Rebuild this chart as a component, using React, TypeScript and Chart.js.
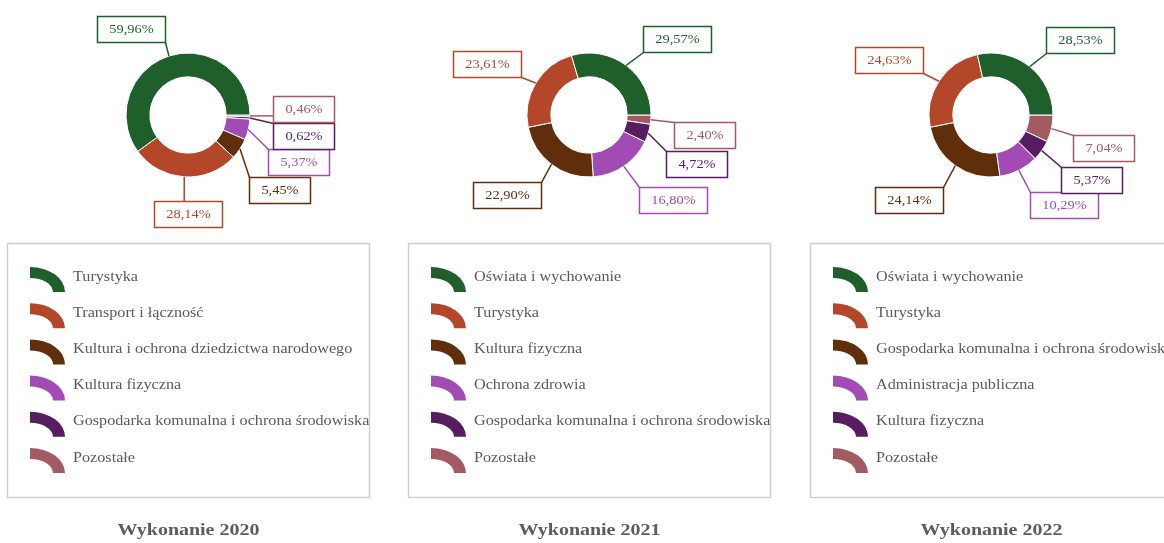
import React, { useEffect, useRef } from "react";
import { Chart, registerables } from "chart.js";

Chart.register(...registerables);

// ---- data ----
const categories2020 = [
  "Turystyka",
  "Transport i łączność",
  "Kultura i ochrona dziedzictwa narodowego",
  "Kultura fizyczna",
  "Gospodarka komunalna i ochrona środowiska",
  "Pozostałe",
];
const values2020 = [59.96, 28.14, 5.45, 5.37, 0.62, 0.46];

const categories2021 = [
  "Oświata i wychowanie",
  "Turystyka",
  "Kultura fizyczna",
  "Ochrona zdrowia",
  "Gospodarka komunalna i ochrona środowiska",
  "Pozostałe",
];
const values2021 = [29.57, 23.61, 22.9, 16.8, 4.72, 2.4];

const categories2022 = [
  "Oświata i wychowanie",
  "Turystyka",
  "Gospodarka komunalna i ochrona środowiska",
  "Administracja publiczna",
  "Kultura fizyczna",
  "Pozostałe",
];
const values2022 = [28.53, 24.63, 24.14, 10.29, 5.37, 7.04];

const titles = ["Wykonanie 2020", "Wykonanie 2021", "Wykonanie 2022"];

// ---- styles / layout ----
const colors = ["#1e5f2b", "#b4472a", "#602e0b", "#a24bb4", "#561d60", "#a45a62"];

// label box centres relative to the doughnut centre
const labelPos2020 = [[-57, -86], [0, 98.5], [91, 74.5], [110, 46.5], [115, 21], [115, -6.5]];
const labelPos2021 = [[88, -76], [-102, -51.5], [-82, 80], [83.5, 84.5], [107.5, 49], [115, 20]];
const labelPos2022 = [[88.5, -75.5], [-102, -55.5], [-82, 85], [72.5, 90], [100, 65], [112, 32.5]];

const PANEL_W = 401;
const PANEL_H = 543;
const panelLeft = [0, 401, 803];
const CX = 188;
const CY = 115;
const SERIF = '"Liberation Serif", "Times New Roman", serif';

function drawText(ctx: CanvasRenderingContext2D, text: string, x: number, y: number, align: CanvasTextAlign, sx: number) {
  ctx.save();
  ctx.translate(x, y);
  ctx.scale(sx, 1);
  ctx.textAlign = align;
  ctx.textBaseline = "middle";
  ctx.fillText(text, 0, 0);
  ctx.restore();
}

function makePlugin(cats: string[], vals: number[], pos: number[][], title: string) {
  return {
    id: "panelDecor",
    afterDraw(chart: any) {
      const ctx: CanvasRenderingContext2D = chart.ctx;
      const meta = chart.getDatasetMeta(0);
      const n = vals.length;
      ctx.save();
      const LSX = 1.22;
      ctx.font = `11.8px ${SERIF}`;
      const boxes: any[] = [];
      for (let i = 0; i < n; i++) {
        const arc = meta.data[n - 1 - i];
        const p = arc.getProps(["x", "y", "startAngle", "endAngle", "outerRadius"], true);
        const mid = (p.startAngle + p.endAngle) / 2;
        const sx = p.x + Math.cos(mid) * p.outerRadius;
        const sy = p.y + Math.sin(mid) * p.outerRadius;
        const txt = vals[i].toFixed(2).replace(".", ",") + "%";
        const tw = ctx.measureText(txt).width * LSX;
        const w = Math.round(tw + 24);
        const h = 26;
        const bx = Math.round(p.x + pos[i][0] - w / 2) + 0.5;
        const by = Math.round(p.y + pos[i][1] - h / 2) + 0.5;
        const ex = Math.min(Math.max(sx, bx), bx + w);
        const ey = Math.min(Math.max(sy, by), by + h);
        boxes.push({ bx, by, w, h, txt, color: colors[i] });
        ctx.strokeStyle = colors[i];
        ctx.lineWidth = 1.5;
        ctx.beginPath();
        ctx.moveTo(sx, sy);
        ctx.lineTo(ex, ey);
        ctx.stroke();
      }
      for (const b of boxes) {
        ctx.fillStyle = "#ffffff";
        ctx.fillRect(b.bx, b.by, b.w, b.h);
        ctx.strokeStyle = b.color;
        ctx.lineWidth = 1.5;
        ctx.strokeRect(b.bx, b.by, b.w, b.h);
        ctx.fillStyle = b.color;
        drawText(ctx, b.txt, b.bx + b.w / 2, b.by + b.h / 2 + 0.5, "center", LSX);
      }

      // legend
      ctx.strokeStyle = "#cfcfcf";
      ctx.lineWidth = 1.5;
      ctx.strokeRect(7.5, 243.5, 362, 254);
      ctx.font = `14px ${SERIF}`;
      for (let i = 0; i < n; i++) {
        const top = 267 + i * 36.2;
        const ix = 30;
        const iy = top + 25;
        ctx.fillStyle = colors[i];
        ctx.beginPath();
        ctx.ellipse(ix, iy, 35, 25, 0, -Math.PI / 2, 0, false);
        ctx.ellipse(ix, iy, 23, 14, 0, 0, -Math.PI / 2, true);
        ctx.closePath();
        ctx.fill();
        ctx.fillStyle = "#5a5a5a";
        drawText(ctx, cats[i], 73, top + 10, "left", 1.155);
      }

      // title
      ctx.font = `bold 16.5px ${SERIF}`;
      ctx.fillStyle = "#5c5c5c";
      drawText(ctx, title, CX + 0.5, 531, "center", 1.21);
      ctx.restore();
    },
  };
}

const panels = [
  { cats: categories2020, vals: values2020, pos: labelPos2020 },
  { cats: categories2021, vals: values2021, pos: labelPos2021 },
  { cats: categories2022, vals: values2022, pos: labelPos2022 },
];

export default function App() {
  const refs = [useRef<HTMLCanvasElement>(null), useRef<HTMLCanvasElement>(null), useRef<HTMLCanvasElement>(null)];

  useEffect(() => {
    const charts: Chart[] = [];
    panels.forEach((pn, k) => {
      const canvas = refs[k].current;
      if (!canvas) return;
      const chart = new Chart(canvas, {
        type: "doughnut",
        data: {
          labels: [...pn.cats].reverse(),
          datasets: [
            {
              data: [...pn.vals].reverse(),
              backgroundColor: [...colors].reverse(),
              borderColor: "#ffffff",
              borderWidth: 1,
            },
          ],
        },
        options: {
          responsive: false,
          animation: false,
          events: [],
          rotation: 90,
          radius: 62,
          cutout: "61.5%",
          layout: {
            padding: {
              left: CX - 50,
              right: PANEL_W - CX - 50,
              top: CY - 50,
              bottom: PANEL_H - CY - 50,
            },
          },
          plugins: {
            legend: { display: false },
            tooltip: { enabled: false },
            title: { display: false },
          },
        } as any,
        plugins: [makePlugin(pn.cats, pn.vals, pn.pos, titles[k])],
      });
      charts.push(chart);
    });
    return () => charts.forEach((c) => c.destroy());
  }, []);

  return (
    <div
      style={{
        position: "absolute",
        left: 0,
        top: 0,
        width: 1164,
        height: 543,
        overflow: "hidden",
        background: "#ffffff",
      }}
    >
      {panels.map((_, k) => (
        <canvas
          key={k}
          ref={refs[k]}
          width={PANEL_W}
          height={PANEL_H}
          style={{ position: "absolute", left: panelLeft[k], top: 0, width: PANEL_W, height: PANEL_H, display: "block" }}
        />
      ))}
    </div>
  );
}
